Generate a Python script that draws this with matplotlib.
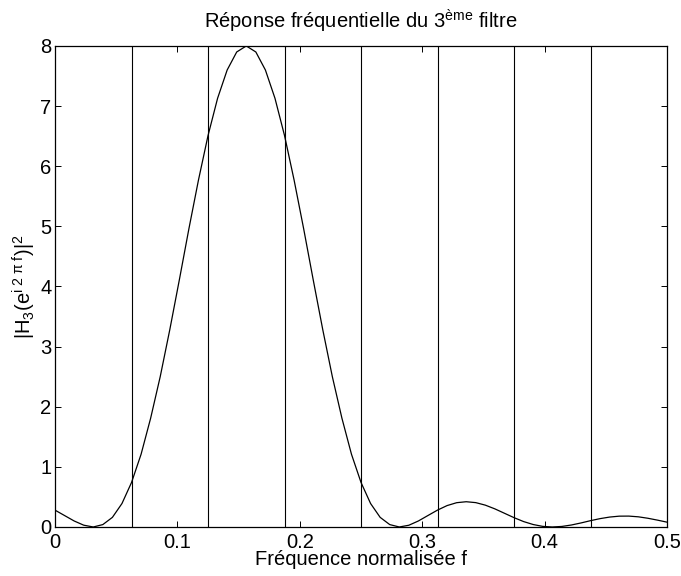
import numpy as np
import matplotlib
matplotlib.use("Agg")
import matplotlib.pyplot as plt

plt.rcParams['font.family'] = ['Liberation Sans', 'DejaVu Sans']
plt.rcParams['mathtext.fontset'] = 'custom'
plt.rcParams['mathtext.rm'] = 'Liberation Sans'
plt.rcParams['mathtext.it'] = 'Liberation Sans'
plt.rcParams['mathtext.default'] = 'regular'

gain = [0.28, 0.19, 0.10, 0.03, 0.00, 0.04, 0.16, 0.39, 0.74, 1.21,
        1.81, 2.50, 3.28, 4.11, 4.96, 5.77, 6.51, 7.13, 7.60, 7.90,
        8.00, 7.90, 7.60, 7.13, 6.51, 5.77, 4.96, 4.11, 3.28, 2.50,
        1.81, 1.21, 0.74, 0.39, 0.16, 0.04, 0.00, 0.029, 0.100, 0.191,
        0.281, 0.356, 0.404, 0.420, 0.405, 0.363, 0.301, 0.228, 0.155, 0.090,
        0.041, 0.010, 0.000, 0.009, 0.033, 0.067, 0.105, 0.139, 0.165, 0.180,
        0.181, 0.169, 0.145, 0.114, 0.080]
freq = np.linspace(0.0, 0.5, len(gain))

# band edges of the filter bank
edges = [0.0625, 0.125, 0.1875, 0.25, 0.3125, 0.375, 0.4375]

xticks = [0, 0.1, 0.2, 0.3, 0.4, 0.5]
xticklabels = ['0', '0.1', '0.2', '0.3', '0.4', '0.5']
yticks = [0, 1, 2, 3, 4, 5, 6, 7, 8]

fig = plt.figure(figsize=(6.81, 5.76), dpi=100)
ax = fig.add_axes([0.0808, 0.0851, 0.8987, 0.8351])

ax.plot(freq, gain, color='k', linewidth=0.9)
for e in edges:
    ax.axvline(e, color='k', linewidth=0.8)

ax.set_xlim(0, 0.5)
ax.set_ylim(0, 8)
ax.set_xticks(xticks)
ax.set_xticklabels(xticklabels)
ax.set_yticks(yticks)
ax.tick_params(direction='in', top=True, right=True, labelsize=14.5, length=4.5, width=0.7)
ax.tick_params(axis='x', pad=4)
ax.tick_params(axis='y', pad=2.5)
for s in ax.spines.values():
    s.set_linewidth(0.9)

ax.set_title('Réponse fréquentielle du 3$^{ème}$ filtre', fontsize=14.5, pad=12.5)
ax.set_xlabel('Fréquence normalisée f', fontsize=14.5, labelpad=-1)
ax.set_ylabel('|H$_3$(e$^{i\\ 2\\ \\pi\\ f}$)|$^2$', fontsize=14.5, labelpad=2)

fig.savefig('out.png', dpi=100)
